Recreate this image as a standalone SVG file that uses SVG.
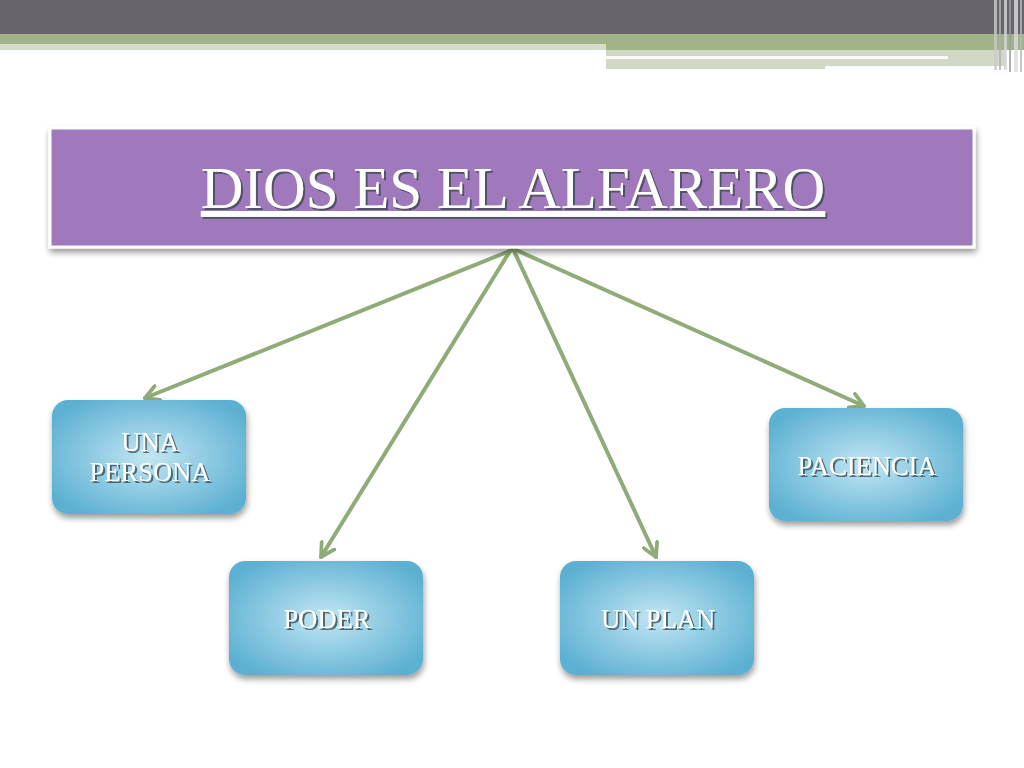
<svg xmlns="http://www.w3.org/2000/svg" width="1024" height="768" viewBox="0 0 1024 768">
<defs>
<style>
.node-text{font-family:"Liberation Serif","Times New Roman",serif;font-size:26.5px;fill:#ffffff;text-anchor:middle;}
.title-text{font-family:"Liberation Serif","Times New Roman",serif;font-size:59px;fill:#ffffff;text-anchor:middle;text-decoration:underline;}
.conn{stroke:#8fac78;stroke-width:4;fill:none;stroke-linecap:round;}
</style>
<radialGradient id="blue" cx="50%" cy="50%" r="60%">
<stop offset="0" stop-color="#c2e6f3"/>
<stop offset="1" stop-color="#5cb0d2"/>
</radialGradient>
<filter id="shadow" x="-10%" y="-10%" width="130%" height="140%">
<feGaussianBlur in="SourceAlpha" stdDeviation="3"/>
<feOffset dx="1" dy="4" result="b"/>
<feComponentTransfer><feFuncA type="linear" slope="0.4"/></feComponentTransfer>
<feMerge><feMergeNode/><feMergeNode in="SourceGraphic"/></feMerge>
</filter>
<filter id="tshadow" x="-10%" y="-20%" width="120%" height="150%">
<feOffset in="SourceAlpha" dx="1.5" dy="1.5" result="o"/>
<feFlood flood-color="#3c4a50" flood-opacity="0.8"/>
<feComposite in2="o" operator="in"/>
<feMerge><feMergeNode/><feMergeNode in="SourceGraphic"/></feMerge>
</filter>
<marker id="arrow" viewBox="0 0 12 12" refX="10" refY="6" markerWidth="4.5" markerHeight="4.5" orient="auto" markerUnits="strokeWidth">
<path d="M1,1 L10,6 L1,11" fill="none" stroke="#8fac78" stroke-width="2.5" stroke-linecap="round" stroke-linejoin="round"/>
</marker>
</defs>
<rect width="1024" height="768" fill="#ffffff"/>
<g id="header">
<rect x="0" y="0" width="1024" height="34" fill="#67646c"/>
<rect x="0" y="34" width="1024" height="10" fill="#a0b487"/>
<rect x="0" y="44" width="606" height="6" fill="#d4dccb"/>
<rect x="606" y="44" width="418" height="6" fill="#a0b487"/>
<rect x="606" y="50" width="400" height="16" fill="#d0d9c6"/>
<rect x="606" y="66" width="219" height="3" fill="#d0d9c6"/>
<rect x="606" y="56" width="342" height="3" fill="#fbfcf8"/>
<rect x="994" y="0" width="3" height="70" fill="#c9c9cc" opacity="0.8"/>
<rect x="999" y="0" width="2" height="70" fill="#b0b0b4" opacity="0.8"/>
<rect x="1004" y="0" width="3" height="70" fill="#d6d6d8" opacity="0.8"/>
<rect x="1009" y="0" width="2" height="72" fill="#9c9ca0" opacity="0.8"/>
<rect x="1014" y="0" width="4" height="72" fill="#dcdcde" opacity="0.8"/>
<rect x="1020" y="0" width="2" height="72" fill="#b8b8bc" opacity="0.8"/>
</g>
<g id="connectors">
<line class="conn" x1="512" y1="250" x2="145" y2="398" marker-end="url(#arrow)"/>
<line class="conn" x1="510" y1="251" x2="321" y2="557" marker-end="url(#arrow)"/>
<line class="conn" x1="514" y1="251" x2="656" y2="557" marker-end="url(#arrow)"/>
<line class="conn" x1="516" y1="250" x2="864" y2="406" marker-end="url(#arrow)"/>
</g>
<g id="title">
<rect x="50" y="128" width="924" height="119" fill="#a078bc" stroke="#ffffff" stroke-width="3" filter="url(#shadow)"/>
<text class="title-text" x="513" y="208" filter="url(#tshadow)">DIOS ES EL ALFARERO</text>
</g>
<g id="node-una-persona">
<rect x="52" y="400" width="194" height="114" rx="16" fill="url(#blue)" filter="url(#shadow)"/>
<text class="node-text" x="150" y="451" filter="url(#tshadow)">UNA</text>
<text class="node-text" x="150" y="481" filter="url(#tshadow)">PERSONA</text>
</g>
<g id="node-paciencia">
<rect x="769" y="408" width="194" height="113" rx="16" fill="url(#blue)" filter="url(#shadow)"/>
<text class="node-text" x="867" y="475" filter="url(#tshadow)">PACIENCIA</text>
</g>
<g id="node-poder">
<rect x="229" y="561" width="194" height="114" rx="16" fill="url(#blue)" filter="url(#shadow)"/>
<text class="node-text" x="327" y="628" filter="url(#tshadow)">PODER</text>
</g>
<g id="node-un-plan">
<rect x="560" y="561" width="194" height="114" rx="16" fill="url(#blue)" filter="url(#shadow)"/>
<text class="node-text" x="658" y="628" filter="url(#tshadow)">UN PLAN</text>
</g>
</svg>
